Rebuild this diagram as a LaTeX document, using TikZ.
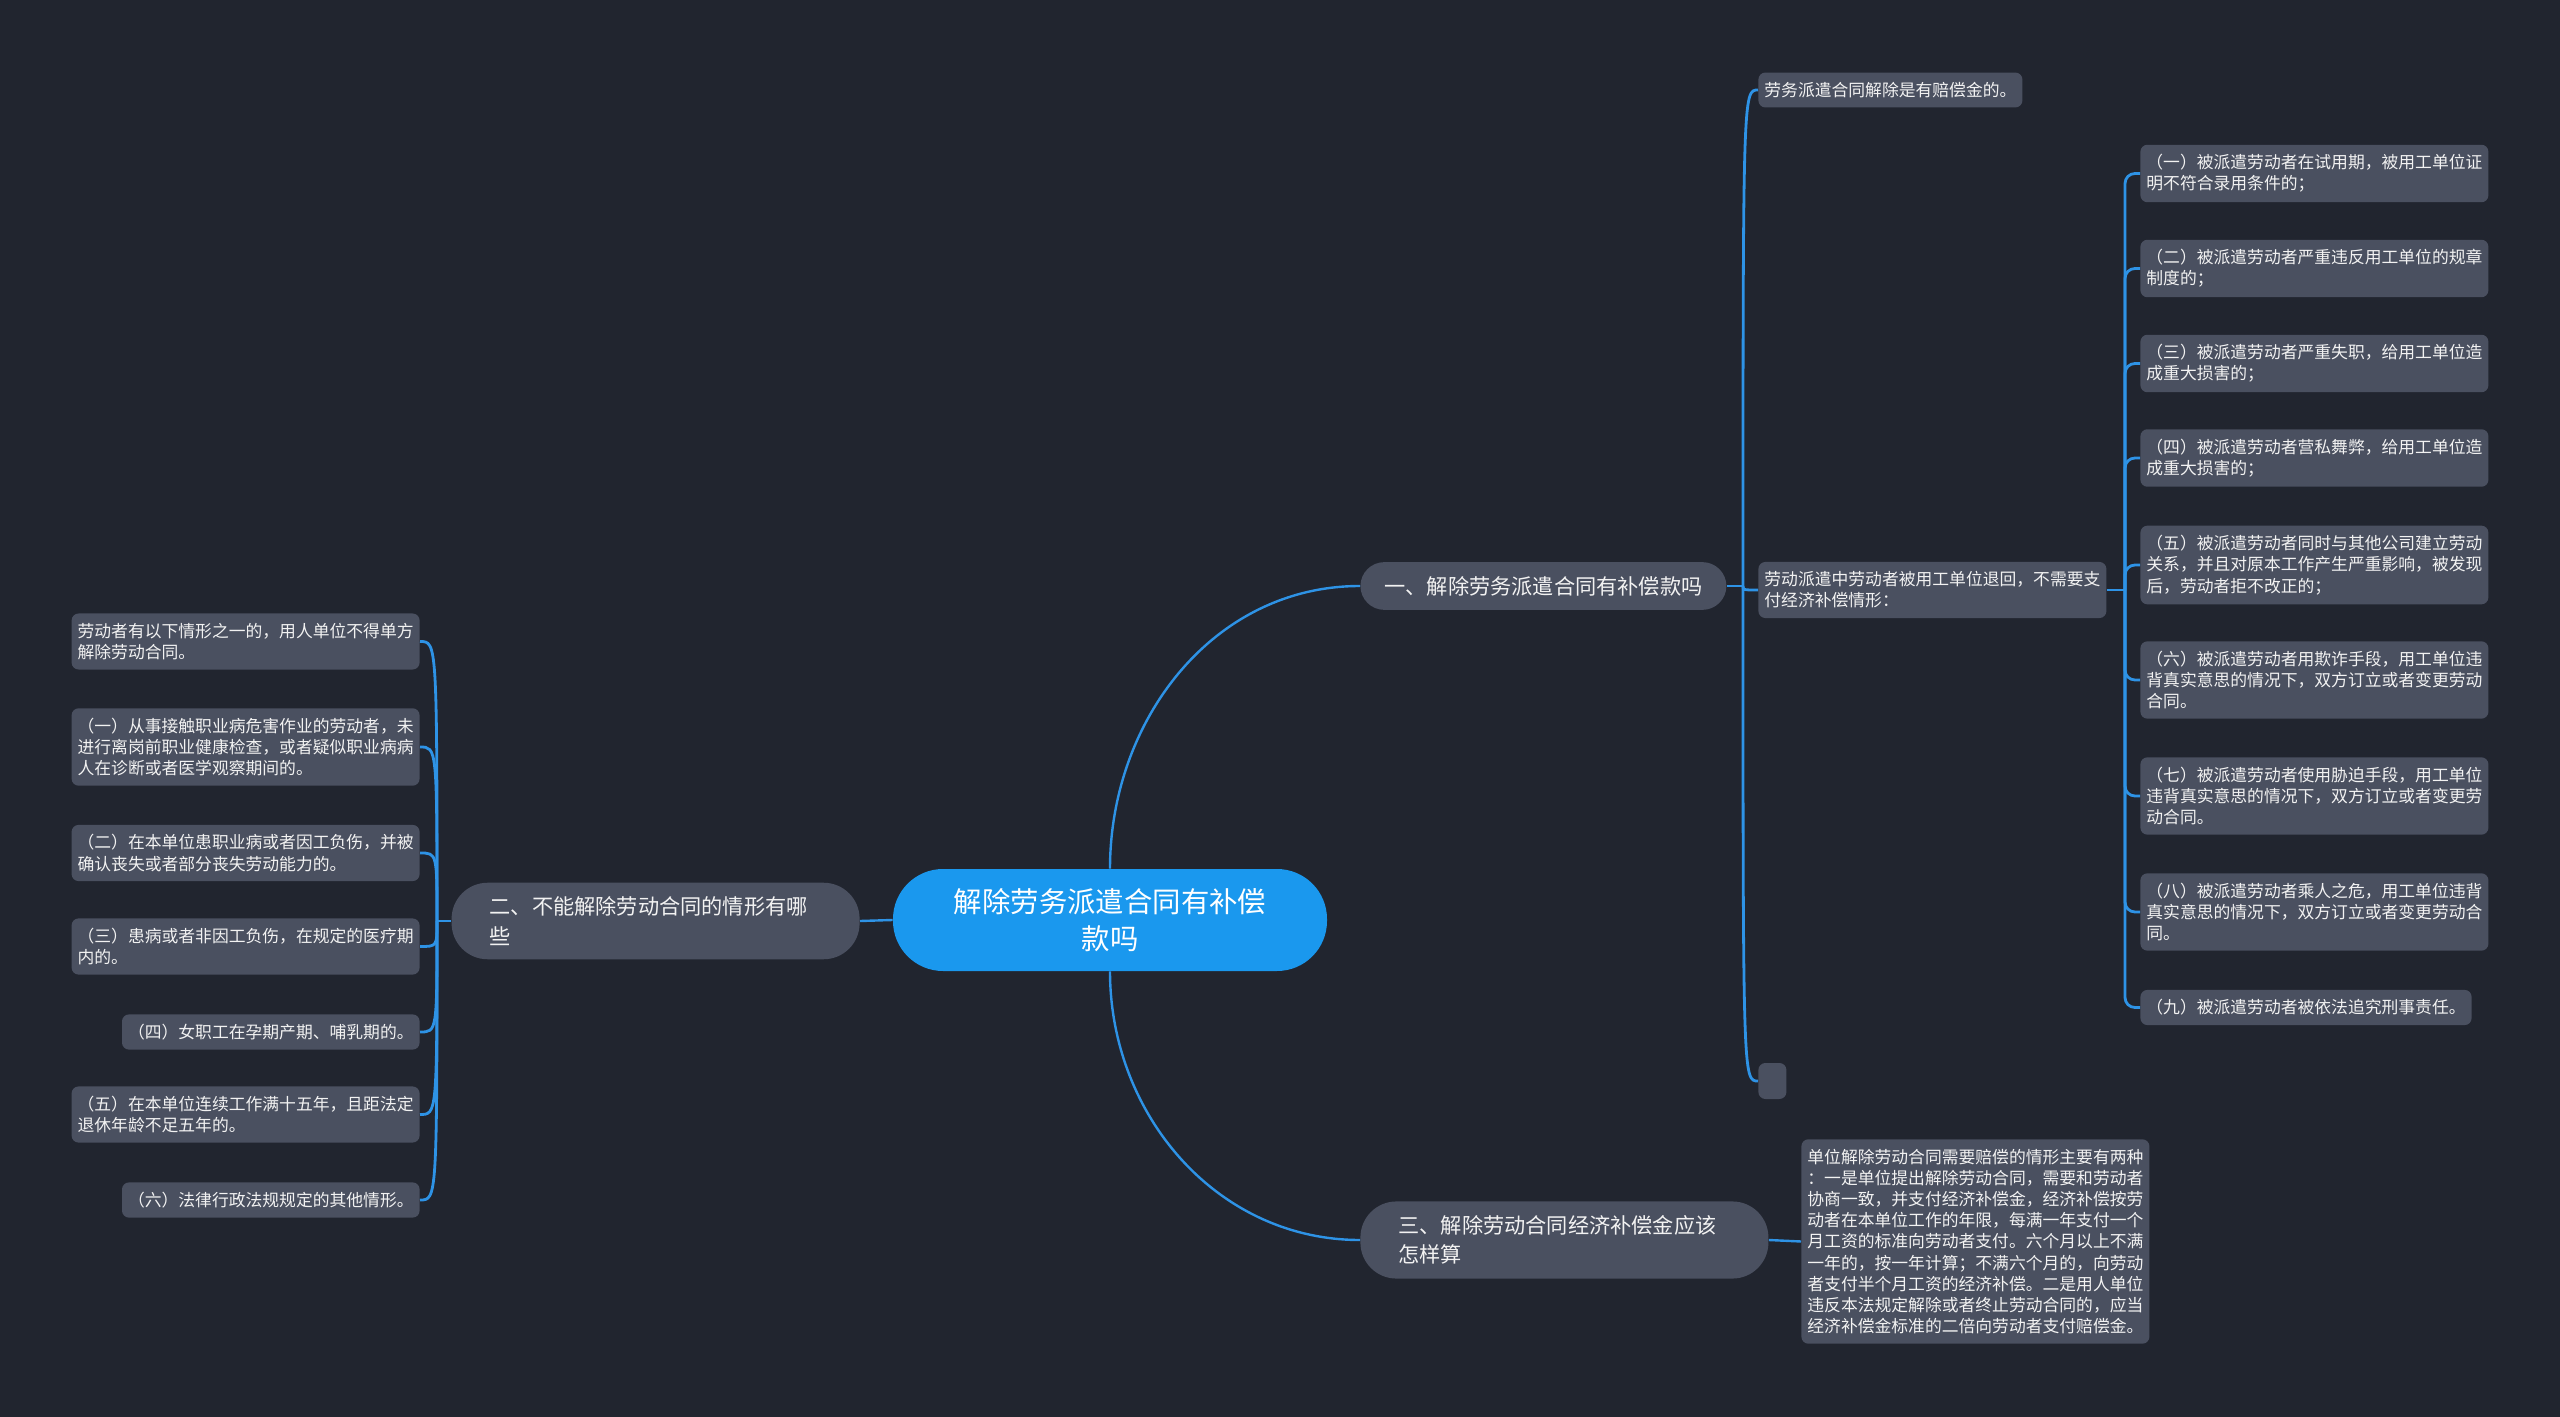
\documentclass[tikz,border=0pt]{standalone}
\usepackage{fontspec}
\setmainfont{Noto Sans CJK SC}
\definecolor{bgcol}{HTML}{21252F}
\definecolor{boxcol}{HTML}{4A5060}
\definecolor{rootcol}{HTML}{1A98EE}
\definecolor{linecol}{HTML}{2E93E6}
\definecolor{txtcol}{HTML}{F2F2F2}

\begin{document}
\begin{tikzpicture}[x=0.5pt, y=-0.5pt,
  root/.style={fill=rootcol, text=white, rounded corners=25pt, minimum width=217pt, minimum height=51pt, align=center, font=\fontsize{14.2}{18.8}\selectfont},
  topic/.style={fill=boxcol, text=txtcol, inner xsep=19pt, inner ysep=7pt, align=left, font=\fontsize{10.6}{14.7}\selectfont},
  leaf/.style={fill=boxcol, text=txtcol, rounded corners=3.5pt, inner xsep=3pt, inner ysep=4.8pt, align=left, font=\fontsize{8.4}{10.6}\selectfont},
  link/.style={draw=linecol, line width=1.2pt},
  fork/.style={draw=linecol, line width=1.4pt}]

  \fill[bgcol] (0,0) rectangle (2560,1417);
  \useasboundingbox (0,0) rectangle (2560,1417);

  % root
  \node[root] (root) at (1110,920) {解除劳务派遣合同有补偿\\款吗};

  % main topics
  \node[topic, rounded corners=12pt, inner xsep=12pt, anchor=west] (t1) at (1360,586) {一、解除劳务派遣合同有补偿款吗};
  \node[topic, rounded corners=18pt, text width=166pt, anchor=east] (t2) at (860,921) {二、不能解除劳动合同的情形有哪\\些};
  \node[topic, rounded corners=18pt, text width=166pt, anchor=west] (t3) at (1360,1240) {三、解除劳动合同经济补偿金应该\\怎样算};

  % first topic
  \node[leaf, anchor=west] (a1) at (1758,90) {劳务派遣合同解除是有赔偿金的。};
  \node[leaf, anchor=west] (a2) at (1758,590) {劳动派遣中劳动者被用工单位退回，不需要支\\付经济补偿情形：};
  \node[leaf, anchor=west, minimum width=14pt, minimum height=18pt] (a3) at (1758,1081) {};

  % cases under a2
  \node[leaf, anchor=west] (s1) at (2140,173.5) {（一）被派遣劳动者在试用期，被用工单位证\\明不符合录用条件的；};
  \node[leaf, anchor=west] (s2) at (2140,268.5) {（二）被派遣劳动者严重违反用工单位的规章\\制度的；};
  \node[leaf, anchor=west] (s3) at (2140,363.5) {（三）被派遣劳动者严重失职，给用工单位造\\成重大损害的；};
  \node[leaf, anchor=west] (s4) at (2140,458) {（四）被派遣劳动者营私舞弊，给用工单位造\\成重大损害的；};
  \node[leaf, anchor=west] (s5) at (2140,565) {（五）被派遣劳动者同时与其他公司建立劳动\\关系，并且对原本工作产生严重影响，被发现\\后，劳动者拒不改正的；};
  \node[leaf, anchor=west] (s6) at (2140,680) {（六）被派遣劳动者用欺诈手段，用工单位违\\背真实意思的情况下，双方订立或者变更劳动\\合同。};
  \node[leaf, anchor=west] (s7) at (2140,796) {（七）被派遣劳动者使用胁迫手段，用工单位\\违背真实意思的情况下，双方订立或者变更劳\\动合同。};
  \node[leaf, anchor=west] (s8) at (2140,912) {（八）被派遣劳动者乘人之危，用工单位违背\\真实意思的情况下，双方订立或者变更劳动合\\同。};
  \node[leaf, anchor=west] (s9) at (2140,1007.5) {（九）被派遣劳动者被依法追究刑事责任。};

  % second topic
  \node[leaf, anchor=east] (b1) at (420,641.5) {劳动者有以下情形之一的，用人单位不得单方\\解除劳动合同。};
  \node[leaf, anchor=east] (b2) at (420,747) {（一）从事接触职业病危害作业的劳动者，未\\进行离岗前职业健康检查，或者疑似职业病病\\人在诊断或者医学观察期间的。};
  \node[leaf, anchor=east] (b3) at (420,853) {（二）在本单位患职业病或者因工负伤，并被\\确认丧失或者部分丧失劳动能力的。};
  \node[leaf, anchor=east] (b4) at (420,946.5) {（三）患病或者非因工负伤，在规定的医疗期\\内的。};
  \node[leaf, anchor=east] (b5) at (420,1032) {（四）女职工在孕期产期、哺乳期的。};
  \node[leaf, anchor=east] (b6) at (420,1114.5) {（五）在本单位连续工作满十五年，且距法定\\退休年龄不足五年的。};
  \node[leaf, anchor=east] (b7) at (420,1200) {（六）法律行政法规规定的其他情形。};

  % third topic
  \node[leaf, anchor=west] (d1) at (1801,1241.5) {单位解除劳动合同需要赔偿的情形主要有两种\\：一是单位提出解除劳动合同，需要和劳动者\\协商一致，并支付经济补偿金，经济补偿按劳\\动者在本单位工作的年限，每满一年支付一个\\月工资的标准向劳动者支付。六个月以上不满\\一年的，按一年计算；不满六个月的，向劳动\\者支付半个月工资的经济补偿。二是用人单位\\违反本法规定解除或者终止劳动合同的，应当\\经济补偿金标准的二倍向劳动者支付赔偿金。};

  % ghost points
  \coordinate (j1) at (1743,586);
  \coordinate (j2) at (437,921);
  \coordinate (j3) at (2125,590);

  % connectors
  \draw[link] (root.north) to[out=90, in=180] (t1.west);
  \draw[link] (root.south) to[out=-90, in=180] (t3.west);
  \draw[link] (root.west) -- (t2.east);
  \draw[link] (t3.east) -- (d1.west);

  \draw[link] (t1.east) -- (j1);
  \foreach \n in {a1,a2,a3}
    \draw[fork] (j1) .. controls (j1 |- \n.west) .. (\n.west);

  \draw[fork] (a2.east) -- (j3);
  \foreach \i in {1,...,9}
    \draw[fork, rounded corners=5pt] (j3) |- (s\i.west);

  \draw[link] (t2.west) -- (j2);
  \foreach \i in {1,...,7}
    \draw[fork] (j2) .. controls (j2 |- b\i.east) .. (b\i.east);

\end{tikzpicture}
\end{document}
